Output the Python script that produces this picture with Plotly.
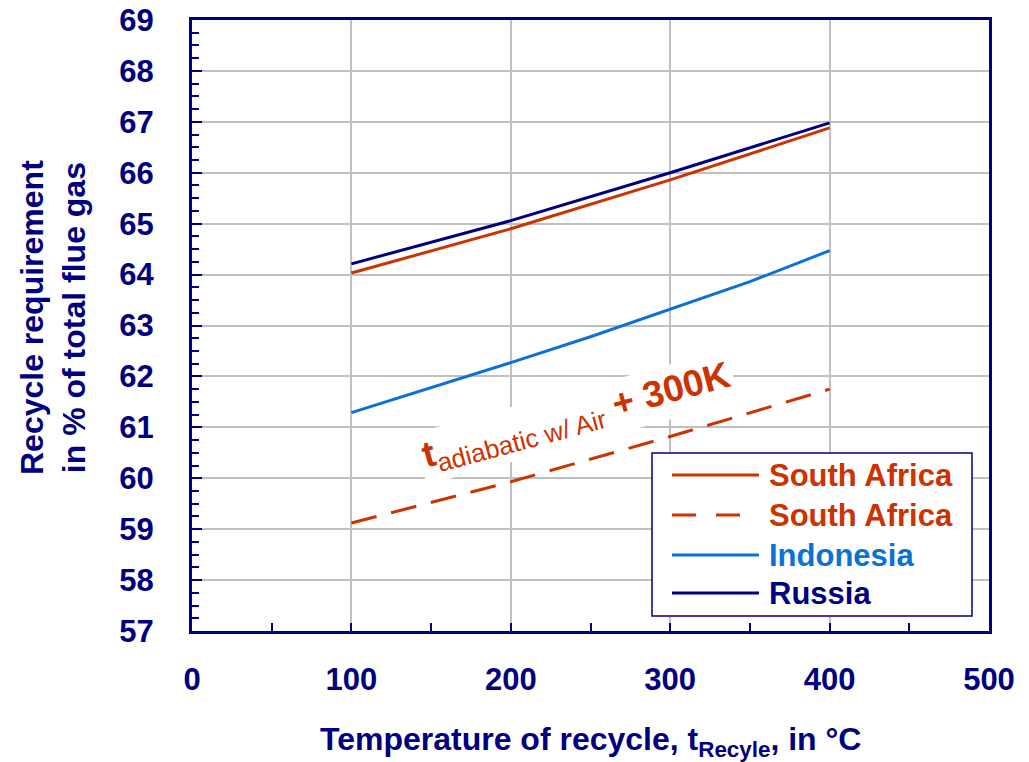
import plotly.graph_objects as go

# Recycle temperature (°C)
t_recycle = [100, 200, 300, 400]

# Recycle requirement, % of total flue gas
south_africa = [64.03, 64.90, 65.86, 66.88]
south_africa_adiab = [59.12, 59.93, 60.82, 61.75]
indonesia_t = [100, 200, 250, 300, 350, 400]
indonesia = [61.29, 62.27, 62.78, 63.32, 63.86, 64.47]
russia = [64.21, 65.06, 66.00, 66.98]

x_ticks = [0, 100, 200, 300, 400, 500]
y_ticks = list(range(57, 70))

legend_names = ["South Africa", "South Africa", "Indonesia", "Russia"]

NAVY = "#000080"
RED = "#CC3300"
BLUE = "#0A72D6"
GRID = "#C0C0C0"
FONT = "Liberation Sans"

# plot area in pixels (for placing the boxed key)
PX_L, PX_R, PX_T, PX_B = 192, 989, 20, 631


def px_x(p):
    return (p - PX_L) / (PX_R - PX_L)


def px_y(p):
    return (PX_B - p) / (PX_B - PX_T)


fig = go.Figure()
series = [
    (t_recycle, south_africa, RED, "solid"),
    (t_recycle, south_africa_adiab, RED, "26px,15px"),
    (indonesia_t, indonesia, BLUE, "solid"),
    (t_recycle, russia, NAVY, "solid"),
]
for (xs, ys, color, dash), name in zip(series, legend_names):
    fig.add_trace(go.Scatter(x=xs, y=ys, mode="lines", name=name,
                             line=dict(color=color, width=3, dash=dash),
                             showlegend=False))

fig.update_xaxes(
    range=[0, 500], tickvals=x_ticks, ticktext=[str(v) for v in x_ticks],
    showgrid=True, gridcolor=GRID, gridwidth=1.5,
    showline=True, linecolor=NAVY, linewidth=3, mirror=True,
    ticks="inside", ticklen=8, tickwidth=1.5, tickcolor=NAVY,
    minor=dict(dtick=50, ticks="inside", ticklen=8, tickwidth=1.5,
               tickcolor=NAVY, showgrid=False),
    tickfont=dict(family=FONT, size=31, color=NAVY, weight="bold"),
    ticklabelstandoff=19, zeroline=False,
)
fig.update_yaxes(
    range=[57, 69], tickvals=y_ticks, ticktext=[str(v) for v in y_ticks],
    showgrid=True, gridcolor=GRID, gridwidth=1.5,
    showline=True, linecolor=NAVY, linewidth=3, mirror=True,
    ticks="inside", ticklen=10, tickwidth=2, tickcolor=NAVY,
    minor=dict(dtick=0.25, ticks="inside", ticklen=7, tickwidth=2,
               tickcolor=NAVY, showgrid=False),
    tickfont=dict(family=FONT, size=31, color=NAVY, weight="bold"),
    ticklabelstandoff=29, zeroline=False,
)

# label on the dashed curve
fig.add_annotation(
    x=241.5, y=61.2, xref="x", yref="y",
    text="<b>t</b><sub>adiabatic w/ Air</sub><b> + 300K</b>",
    textangle=-15, showarrow=False, bgcolor="white", borderpad=3,
    font=dict(family=FONT, size=37, color=RED),
)

# axis titles
fig.add_annotation(
    x=px_x(53), y=px_y(318), xref="paper", yref="paper",
    xanchor="center", yanchor="middle",
    text="Recycle requirement<br>in % of total flue gas",
    textangle=-90, showarrow=False,
    font=dict(family=FONT, size=32, color=NAVY, weight="bold"),
)
fig.add_annotation(
    x=px_x(590), y=px_y(741), xref="paper", yref="paper",
    xanchor="center", yanchor="middle",
    text="Temperature of recycle, t<sub>Recyle</sub>, in °C",
    showarrow=False,
    font=dict(family=FONT, size=32, color=NAVY, weight="bold"),
)

# boxed key
fig.add_shape(type="rect", xref="paper", yref="paper",
              x0=px_x(652), x1=px_x(972), y0=px_y(616), y1=px_y(453),
              fillcolor="white", line=dict(color=NAVY, width=1.5),
              layer="above")
key_rows = [475, 515, 555, 593]
for (xs, ys, color, dash), name, row in zip(series, legend_names, key_rows):
    fig.add_shape(type="line", xref="paper", yref="paper",
                  x0=px_x(672), x1=px_x(759), y0=px_y(row), y1=px_y(row),
                  line=dict(color=color, width=3,
                            dash="24px,20px" if dash != "solid" else "solid"),
                  layer="above")
    fig.add_annotation(x=px_x(767), y=px_y(row), xref="paper", yref="paper",
                       xanchor="left", yanchor="middle", text=name,
                       showarrow=False,
                       font=dict(family=FONT, size=31, color=color,
                                 weight="bold"))

fig.update_layout(
    width=1029, height=762,
    margin=dict(l=PX_L, r=1029 - PX_R, t=PX_T, b=762 - PX_B,
                autoexpand=False),
    paper_bgcolor="white", plot_bgcolor="white",
    showlegend=False,
)

fig.write_html("out.html")
